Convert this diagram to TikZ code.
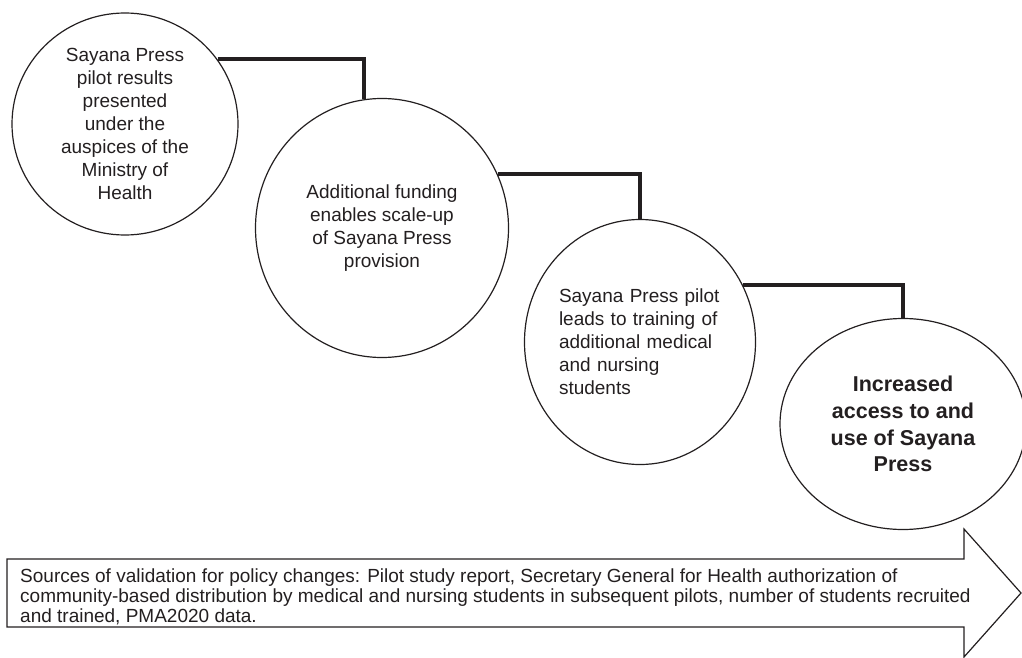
\documentclass[tikz,border=0pt]{standalone}
\usepackage{fontspec}
\setmainfont{Liberation Sans}
\usepackage{tikz}
\usetikzlibrary{shapes.geometric}
\usepackage{xcolor}
\definecolor{ink}{HTML}{231F20}

\begin{document}
\begin{tikzpicture}[x=1pt,y=-1pt,
  bubble/.style={draw=ink, line width=1.2pt, ellipse, inner sep=-4pt, align=center,
    text=ink, font={\fontsize{19}{23}\selectfont}},
  link/.style={draw=ink, line width=3.5pt}]
  \useasboundingbox (0,0) rectangle (1022,658);

  % Steps
  \node[bubble, minimum width=226pt, minimum height=222pt] (pilot) at (125,124)
    {Sayana Press\\pilot results\\presented\\under the\\auspices of the\\Ministry of\\Health};
  \node[bubble, minimum width=253pt, minimum height=259pt] (funding) at (382,228)
    {Additional funding\\enables scale-up\\of Sayana Press\\provision};
  \node[bubble, minimum width=231pt, minimum height=245pt, align=left, text width=162pt] (training) at (640,342)
    {Sayana Press pilot\\leads to training of\\additional medical\\and nursing\\students};
  \node[bubble, minimum width=246pt, minimum height=211pt, font={\bfseries\fontsize{21.5}{26.7}\selectfont}] (access) at (903,424)
    {Increased\\access to and\\use of Sayana\\Press};

  % Links
  \draw[link] (pilot.35) -| (funding.98);
  \draw[link] (funding.25) -| (training.north);
  \draw[link] (training.29) -| (access.north);

  % Validation arrow
  \draw[ink, line width=1.2pt] (7,559) -- (964,559) -- (964,529) -- (1021,593)
    -- (964,657) -- (964,627) -- (7,627) -- cycle;
  \node[anchor=north west, align=left, inner sep=0pt, text=ink,
    font={\fontsize{19}{20}\selectfont}] (sources) at (20,569)
    {Sources of validation for policy changes: Pilot study report, Secretary General for Health authorization of\\
     community-based distribution by medical and nursing students in subsequent pilots, number of students recruited\\
     and trained, PMA2020 data.};
\end{tikzpicture}
\end{document}
